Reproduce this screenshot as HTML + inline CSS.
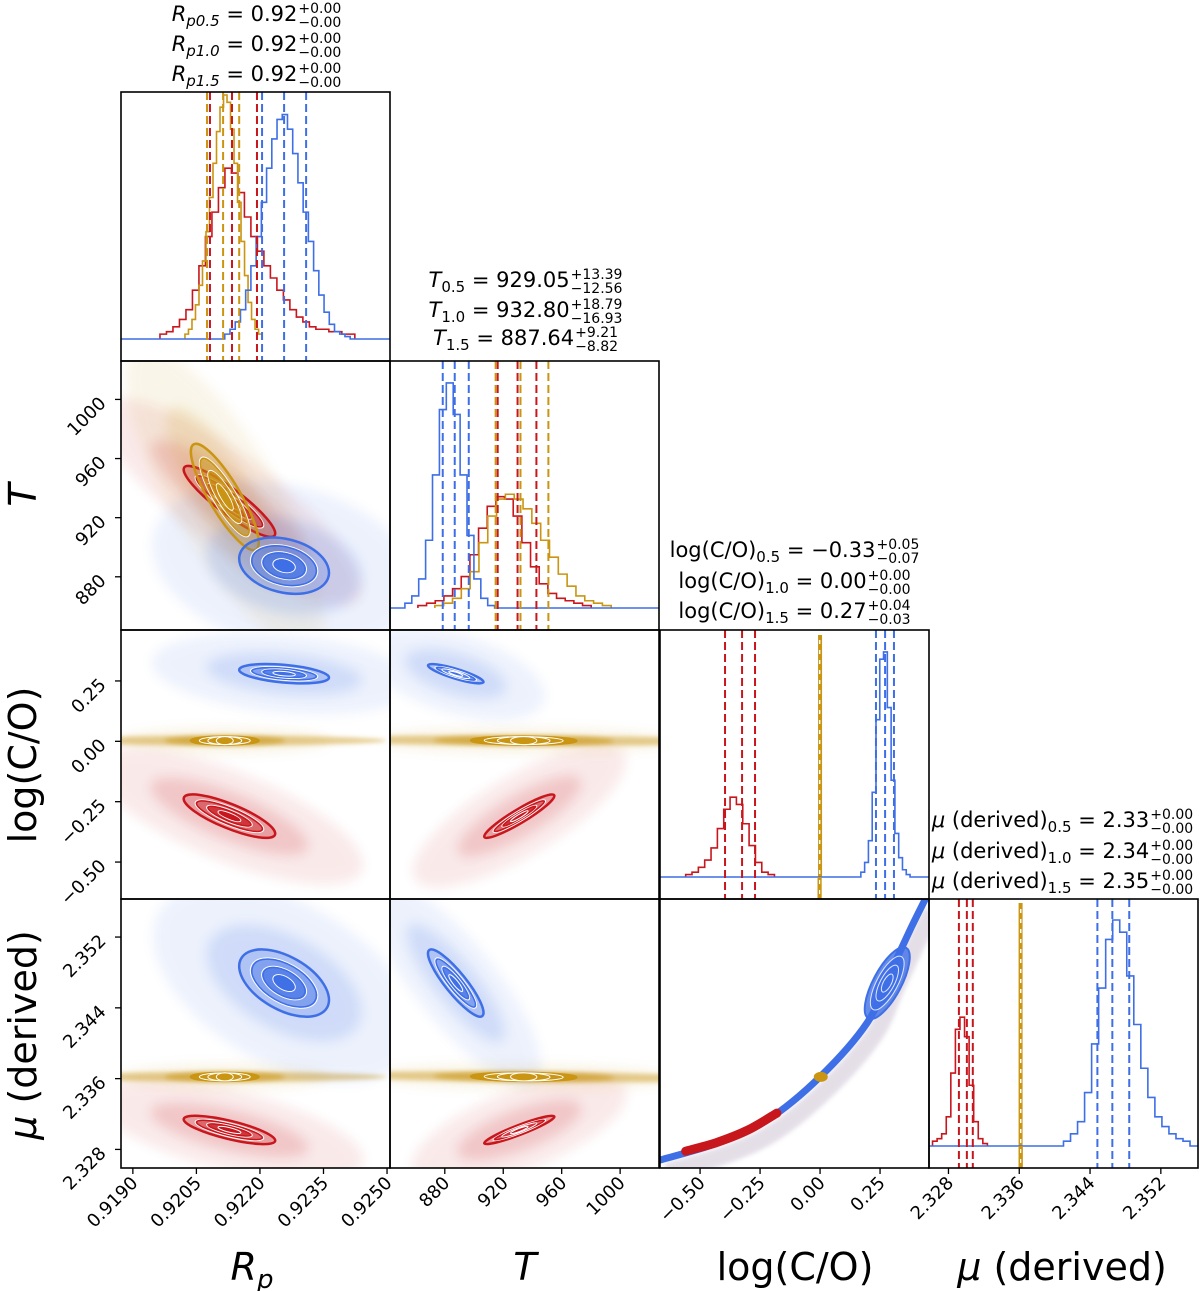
<!DOCTYPE html>
<html><head><meta charset="utf-8"><style>
html,body{margin:0;padding:0;background:#fff}
svg{display:block}
text{font-family:"DejaVu Sans","Liberation Sans",sans-serif;fill:#000}
</style></head><body>
<svg id="chart" width="1200" height="1291" viewBox="0 0 1200 1291" xmlns="http://www.w3.org/2000/svg">
<defs>
<filter id="blur" x="-50%" y="-50%" width="200%" height="200%"><feGaussianBlur stdDeviation="6"/></filter>
<filter id="blur2" x="-50%" y="-50%" width="200%" height="200%"><feGaussianBlur stdDeviation="2"/></filter>
</defs>
<g id="clouds"></g>
<g id="contours"></g>
<g id="hists"></g>
<g id="frames"></g>
<g id="axes"></g>
<g id="titles"></g>
</svg>
<script>
// ---- data ----
const seriesNames = ["c0.5","c1.0","c1.5"];
const colors = ["#c8161d","#c99513","#3e6fe6"];
const domRp = [0.91872, 0.92507];
const domT = [842.5, 1026.6];
const domTy = [844, 1026];
const domC = [-0.667, 0.454];
const domCy = [-0.653, 0.461];
const domMu = [2.3258, 2.3562];
const domMuy = [2.3259, 2.3563];
const ticksRp = [0.9190, 0.9205, 0.9220, 0.9235, 0.9250];
const tickLabRp = ["0.9190","0.9205","0.9220","0.9235","0.9250"];
const ticksT = [880, 920, 960, 1000];
const tickLabT = ["880","920","960","1000"];
const ticksC = [-0.50, -0.25, 0.00, 0.25];
const tickLabC = ["\u22120.50","\u22120.25","0.00","0.25"];
const ticksMu = [2.328, 2.336, 2.344, 2.352];
const tickLabMu = ["2.328","2.336","2.344","2.352"];
const histRpRange = [[0.91964,0.92424],[0.92023,0.92205],[0.92117,0.92413]];
const histRpRed = [0.02,0.03,0.05,0.08,0.12,0.2,0.3,0.42,0.52,0.62,0.7,0.68,0.6,0.5,0.42,0.36,0.3,0.25,0.2,0.16,0.12,0.09,0.07,0.05,0.04,0.04,0.03,0.03,0.02,0.02];
const histRpGold = [0.02,0.04,0.08,0.14,0.22,0.32,0.44,0.58,0.72,0.85,0.95,1.0,0.97,0.86,0.72,0.56,0.4,0.26,0.15,0.08,0.04,0.02];
const histRpBlue = [0.02,0.04,0.07,0.12,0.2,0.3,0.42,0.56,0.7,0.82,0.9,0.92,0.86,0.76,0.64,0.52,0.4,0.28,0.18,0.11,0.06,0.03,0.02,0.01];
const histTRange = [[861.6,980.2],[873.2,993.9],[852.7,914.1]];
const histTRed = [0.01,0.02,0.03,0.05,0.08,0.13,0.22,0.33,0.42,0.46,0.45,0.38,0.27,0.17,0.1,0.06,0.04,0.03,0.02,0.01];
const histTGold = [0.01,0.02,0.04,0.08,0.15,0.27,0.38,0.45,0.47,0.45,0.41,0.35,0.28,0.21,0.14,0.09,0.05,0.03,0.02,0.01];
const histTBlue = [0.02,0.05,0.12,0.28,0.55,0.82,0.93,0.8,0.55,0.3,0.12,0.04,0.01];
const histCRange = [[-0.56,-0.19],[-0.004,0.004],[0.17,0.375]];
const histCRed = [0.01,0.02,0.04,0.07,0.12,0.2,0.28,0.33,0.3,0.22,0.13,0.06,0.02,0.01];
const histCGold = [1.0];
const histCBlue = [0.02,0.06,0.15,0.35,0.65,0.9,0.93,0.7,0.4,0.18,0.08,0.03,0.01];
const histMuRange = [[2.3262,2.3324],[2.3359,2.3364],[2.3410,2.3553]];
const histMuRed = [0.02,0.03,0.05,0.12,0.3,0.48,0.53,0.45,0.25,0.1,0.03,0.01];
const histMuGold = [1.0];
const histMuBlue = [0.02,0.05,0.1,0.22,0.42,0.65,0.85,0.93,0.88,0.7,0.5,0.32,0.2,0.12,0.08,0.05,0.03,0.02];
const qRp = [[0.92082,0.92134,0.92193],[0.92075,0.92113,0.92151],[0.92205,0.92257,0.92309]];
const qT = [[916.2,929.8,942.7],[914.8,931.8,950.9],[878.6,886.8,896.4]];
const qC = [[-0.396,-0.325,-0.271],[-0.002,-0.002,-0.002],[0.233,0.271,0.308]];
const qMu = [[2.32918,2.33008,2.33075],[2.33616,2.33616,2.33616],[2.34483,2.34652,2.34843]];
const meanRp = [0.92128, 0.92117, 0.92257];
const meanT = [931, 934, 887.5];
const meanC = [-0.31, 0.003, 0.28];
const meanMu = [2.3302, 2.3362, 2.3468];
const sdRp = [0.00054, 0.0004, 0.00053];
const sdT = [12, 18, 9.5];
const sdC = [0.045, 0.002, 0.02];
const sdMu = [0.0008, 0.00012, 0.0019];
const rhoRpT = [-0.9, -0.85, -0.25];
const rhoRpC = [-0.8, 0.0, -0.4];
const rhoTC = [0.93, -0.1, -0.85];
const rhoRpMu = [-0.75, 0.0, -0.5];
const rhoTMu = [0.93, -0.2, -0.88];
const rhoCMu = [0.98, 0.9, 0.98];
const curveC = [-0.667,-0.429,-0.221,0.0,0.196,0.291,0.375,0.437];
const curveMu = [2.3268,2.3287,2.3313,2.3362,2.3423,2.3479,2.3528,2.3562];

// ---- layout ----
const colX = [121,390,660,929], rowY = [92,361,630,899], PW=269, PH=269;
const NS="http://www.w3.org/2000/svg";
function mk(tag, attrs, parent){const e=document.createElementNS(NS,tag);for(const k in attrs)e.setAttribute(k,attrs[k]);if(parent)parent.appendChild(e);return e;}
function sx(dom,c){return v=>colX[c]+(v-dom[0])/(dom[1]-dom[0])*PW;}
function sy(dom,r){return v=>rowY[r]+PH-(v-dom[0])/(dom[1]-dom[0])*PH;}
const xDoms=[domRp,domT,domC,domMu], yDoms=[null,domTy,domCy,domMuy];
const means=[meanRp,meanT,meanC,meanMu], sds=[sdRp,sdT,sdC,sdMu];
const rhos={"1,0":rhoRpT,"2,0":rhoRpC,"2,1":rhoTC,"3,0":rhoRpMu,"3,1":rhoTMu,"3,2":rhoCMu};

const gC=document.getElementById('clouds'), gK=document.getElementById('contours'), gH=document.getElementById('hists');
const gF=document.getElementById('frames'), gA=document.getElementById('axes'), gT=document.getElementById('titles');

const defs=document.querySelector('defs');
for(let r=0;r<4;r++)for(let c=0;c<=r;c++){
  const cp=mk('clipPath',{id:'cp'+r+c},defs);
  mk('rect',{x:colX[c],y:rowY[r],width:PW,height:PH},cp);
}

function ellipseParams(r,c,i){
  const X=sx(xDoms[c],c), Y=sy(yDoms[r],r);
  const cx=X(means[c][i]), cy=Y(means[r][i]);
  const sxp=Math.max(1.2, sds[c][i]*PW/(xDoms[c][1]-xDoms[c][0]));
  const syp=Math.max(1.2, sds[r][i]*PH/(yDoms[r][1]-yDoms[r][0]));
  const rho=rhos[r+","+c][i];
  const a=sxp*sxp, d=syp*syp, b=-rho*sxp*syp;
  const m=(a+d)/2, q=Math.sqrt(((a-d)/2)**2+b*b);
  const l1=m+q, l2=Math.max(m-q,1.0);
  const ang=0.5*Math.atan2(2*b,a-d)*180/Math.PI;
  return {cx,cy,r1:Math.sqrt(l1),r2:Math.sqrt(l2),ang};
}

for(let r=1;r<4;r++)for(let c=0;c<r;c++){
  if(r===3&&c===2) continue;
  const gc=mk('g',{'clip-path':'url(#cp'+r+c+')'},gC);
  
  
  const gk=mk('g',{'clip-path':'url(#cp'+r+c+')'},gK);
  
  
  for(const i of [0,1,2]){
    const p=ellipseParams(r,c,i);
    const tr='rotate('+p.ang+' '+p.cx+' '+p.cy+')';
    const thin=(i===1&&r>=2);
    const minR2=Math.max(p.r2,5);
    const e1=mk('ellipse',{cx:p.cx,cy:p.cy,rx:p.r1*5+20,ry:thin?12:minR2*5+14,fill:colors[i],opacity:thin?0.12:0.09,filter:'url(#blur)',transform:tr},gc);
    
    
    const e2=mk('ellipse',{cx:p.cx,cy:p.cy,rx:p.r1*3.2+6,ry:thin?5:minR2*3.2+4,fill:colors[i],opacity:thin?0.55:0.16,filter:thin?'url(#blur2)':'url(#blur)',transform:tr},gc);
    
    
    if(thin){
      const e3=mk('ellipse',{cx:p.cx,cy:p.cy,rx:p.r1*6+60,ry:5,fill:colors[i],opacity:0.45,filter:'url(#blur2)',transform:tr},gc);
      
      
    }
    const lev=[2,1.5,1,0.5], op=[0.22,0.4,0.6,0.95];
    lev.forEach((k,j)=>{
      const el=mk('ellipse',{cx:p.cx,cy:p.cy,rx:Math.max(p.r1*k,2),ry:Math.max(p.r2*k,thin?4:1.5),
        fill:colors[i],'fill-opacity':thin?0.95:op[j],stroke:j===0?colors[i]:'#fff','stroke-width':j===0?2.5:1,transform:tr},gk);
      
      
      if(j>0&&!thin&&p.r2*k>3){const el2=mk('ellipse',{cx:p.cx,cy:p.cy,rx:Math.max(p.r1*k,2)-1.5,ry:Math.max(p.r2*k,1.5)-1.2,fill:'none',stroke:colors[i],'stroke-width':1.5,transform:tr},gk);
        
        }
    });
  }
}

function smoothPath(pts){
  let d='M'+pts[0][0]+' '+pts[0][1];
  for(let i=0;i<pts.length-1;i++){
    const p0=pts[Math.max(i-1,0)],p1=pts[i],p2=pts[i+1],p3=pts[Math.min(i+2,pts.length-1)];
    const c1=[p1[0]+(p2[0]-p0[0])/6,p1[1]+(p2[1]-p0[1])/6];
    const c2=[p2[0]-(p3[0]-p1[0])/6,p2[1]-(p3[1]-p1[1])/6];
    d+='C'+c1[0]+' '+c1[1]+' '+c2[0]+' '+c2[1]+' '+p2[0]+' '+p2[1];
  }
  return d;
}
{
  const X=sx(domC,2), Y=sy(domMuy,3);
  const g=mk('g',{'clip-path':'url(#cp32)'},gK);
  
  
  const pts=curveC.map((v,k)=>[X(v),Y(curveMu[k])]);
  const pts2=pts.map(p=>[p[0]+7,p[1]+12]);
  const sc=mk('path',{d:smoothPath(pts2),fill:'none',stroke:'#c4b8cc','stroke-width':18,opacity:0.45,filter:'url(#blur2)'},g);
  
  
  const ln=mk('path',{d:smoothPath(pts),fill:'none',stroke:colors[2],'stroke-width':7,'stroke-linecap':'round'},g);
  
  
  const redPts=[[X(-0.56),Y(2.3278)],[X(-0.429),Y(2.3288)],[X(-0.3),Y(2.3302)],[X(-0.18),Y(2.3321)]];
  const rs=mk('path',{d:smoothPath(redPts),fill:'none',stroke:colors[0],'stroke-width':9,'stroke-linecap':'round'},g);
  
  
  const gd=mk('ellipse',{cx:X(meanC[1]),cy:Y(meanMu[1]),rx:7,ry:5,fill:colors[1]},g);
  
  
  const cx=X(meanC[2]), cy=Y(meanMu[2]);
  [1,0.75,0.5,0.25].forEach((k,j)=>{
    const el=mk('ellipse',{cx:cx,cy:cy,rx:40*k,ry:Math.max(14*k,4),fill:colors[2],'fill-opacity':[0.8,0.9,0.95,1][j],stroke:j?'#dfe7ff':colors[2],'stroke-width':j?1:2,transform:'rotate(-62 '+cx+' '+cy+')'},g);
    
    
  });
}

// histograms
const histBase=[339,608,877,1146], histH=[244,242,242,243];
const hData=[[histRpRed,histRpGold,histRpBlue],[histTRed,histTGold,histTBlue],[histCRed,histCGold,histCBlue],[histMuRed,histMuGold,histMuBlue]];
const hRange=[histRpRange,histTRange,histCRange,histMuRange];
const qAll=[qRp,qT,qC,qMu];
for(let k=0;k<4;k++){
  const X=sx(xDoms[k],k), base=histBase[k], H=histH[k];
  const g=mk('g',{'clip-path':'url(#cp'+k+k+')'},gH);
  
  
  for(const i of [0,1,2]){
    const cnt=hData[k][i], lo=hRange[k][i][0], hi=hRange[k][i][1], w=(hi-lo)/cnt.length;
    if(cnt.length===1){
      const xm=(X(lo)+X(hi))/2;
      const rc=mk('rect',{x:xm-2,y:base-cnt[0]*H,width:4,height:cnt[0]*H,fill:colors[i]},g);
      
      
      continue;
    }
    const full=(i===2);
    let d='M'+(full?colX[k]:X(lo))+' '+base+'L'+X(lo)+' '+base;
    cnt.forEach((v,j)=>{const y=base-v*H;d+='L'+X(lo+j*w)+' '+y+'L'+X(lo+(j+1)*w)+' '+y;});
    d+='L'+X(hi)+' '+base+'L'+(full?colX[k]+PW:X(hi))+' '+base;
    const pth=mk('path',{d:d,fill:'none',stroke:colors[i],'stroke-width':1.6},g);
    
    
  }
  for(const i of [0,1,2]){
    qAll[k][i].forEach(v=>{
      const x=X(v);
      const spike=hData[k][i].length===1;
      if(spike){const l2=mk('line',{x1:x,x2:x,y1:base,y2:rowY[k]+PH,stroke:colors[i],'stroke-width':4},g);
        
        }
      const l=mk('line',{x1:x,x2:x,y1:rowY[k],y2:rowY[k]+PH,stroke:spike?'#fff':colors[i],'stroke-width':spike?1.2:2,'stroke-dasharray':spike?'4,6':'8,4'},g);
      
      
    });
  }
}

for(let r=0;r<4;r++)for(let c=0;c<=r;c++){
  const f=mk('rect',{x:colX[c],y:rowY[r],width:PW,height:PH,fill:'none',stroke:'#000','stroke-width':1.6},gF);
  
  
}

const xt=[[ticksRp,tickLabRp],[ticksT,tickLabT],[ticksC,tickLabC],[ticksMu,tickLabMu]];
for(let c=0;c<4;c++){
  const X=sx(xDoms[c],c), yb=rowY[3]+PH;
  xt[c][0].forEach((v,j)=>{
    const x=X(v);
    mk('line',{x1:x,x2:x,y1:yb,y2:yb+6,stroke:'#000','stroke-width':1.3},gA);
    const t=mk('text',{x:x+6,y:yb+16,'font-size':18,'text-anchor':'end',transform:'rotate(-45 '+(x+6)+' '+(yb+16)+')'},gA);
    
    
    t.textContent=xt[c][1][j];
  });
}
const yt=[null,[ticksT,tickLabT],[ticksC,tickLabC],[ticksMu,tickLabMu]];
for(let r=1;r<4;r++){
  const Y=sy(yDoms[r],r), xl=colX[0];
  yt[r][0].forEach((v,j)=>{
    const y=Y(v);
    mk('line',{x1:xl-6,x2:xl,y1:y,y2:y,stroke:'#000','stroke-width':1.3},gA);
    const t=mk('text',{x:xl-14,y:y+5,'font-size':18,'text-anchor':'end',transform:'rotate(-45 '+(xl-14)+' '+(y+5)+')'},gA);
    
    
    t.textContent=yt[r][1][j];
  });
}
function axLabel(x,y,rot,parts,name){
  const t=mk('text',{x:x,y:y,'font-size':38,'text-anchor':'middle'},gA);
  if(rot) t.setAttribute('transform','rotate(-90 '+x+' '+y+')');
  
  
  parts.forEach(p=>{const s=mk('tspan',{},t);if(p.it)s.setAttribute('font-style','italic');if(p.sub){s.setAttribute('font-size',26);s.setAttribute('dy',8);}s.textContent=p.t;});
}
axLabel(252,1280,false,[{t:'R',it:1},{t:'p',it:1,sub:1}],'x-axis-title-rp');
axLabel(525,1280,false,[{t:'T',it:1}],'x-axis-title-t');
axLabel(795,1280,false,[{t:'log(C/O)'}],'x-axis-title-logco');
axLabel(1062,1280,false,[{t:'\u03bc',it:1},{t:' (derived)'}],'x-axis-title-mu');
axLabel(36,495,true,[{t:'T',it:1}],'y-axis-title-t');
axLabel(36,765,true,[{t:'log(C/O)'}],'y-axis-title-logco');
axLabel(36,1035,true,[{t:'\u03bc',it:1},{t:' (derived)'}],'y-axis-title-mu');

const titleCx=[256,525,794,1062];
const titleY=[[21,51,81],[287,317,345],[557,588,618],[827,858,888]];
const titleSymbol=[[{t:'R',it:1},'p'],[{t:'T',it:1},''],[{t:'log(C/O)'},''],[{t:'\u03bc',it:1},' (derived)']];
const titleSub=['0.5','1.0','1.5'];
const titleVal=[["0.92","0.92","0.92"],["929.05","932.80","887.64"],["\u22120.33","0.00","0.27"],["2.33","2.34","2.35"]];
const titlePlus=[["+0.00","+0.00","+0.00"],["+13.39","+18.79","+9.21"],["+0.05","+0.00","+0.04"],["+0.00","+0.00","+0.00"]];
const titleMinus=[["\u22120.00","\u22120.00","\u22120.00"],["\u221212.56","\u221216.93","\u22128.82"],["\u22120.07","\u22120.00","\u22120.03"],["\u22120.00","\u22120.00","\u22120.00"]];
for(let k=0;k<4;k++)for(let j=0;j<3;j++){
  const g=mk('g',{},gT);
  
  
  const y=titleY[k][j];
  const t=mk('text',{x:0,y:y,'font-size':21},g);
  const s0=mk('tspan',{},t); s0.textContent=titleSymbol[k][0].t; if(titleSymbol[k][0].it) s0.setAttribute('font-style','italic');
  if(k===3){const s1=mk('tspan',{},t);s1.textContent=titleSymbol[k][1];}
  const sb=mk('tspan',{'font-size':15,dy:5},t); sb.textContent=(k===0?'p':'')+titleSub[j]; if(k===0) sb.setAttribute('font-style','italic');
  const sv=mk('tspan',{dy:-5},t); sv.textContent=' = '+titleVal[k][j];
  const w=t.getComputedTextLength();
  const tp=mk('text',{x:0,y:y-8,'font-size':14},g); tp.textContent=titlePlus[k][j];
  const tm=mk('text',{x:0,y:y+6,'font-size':14},g); tm.textContent=titleMinus[k][j];
  const w2=Math.max(tp.getComputedTextLength(),tm.getComputedTextLength());
  const x0=titleCx[k]-(w+w2)/2;
  t.setAttribute('x',x0); tp.setAttribute('x',x0+w+1); tm.setAttribute('x',x0+w+1);
}
</script>
</body></html>
